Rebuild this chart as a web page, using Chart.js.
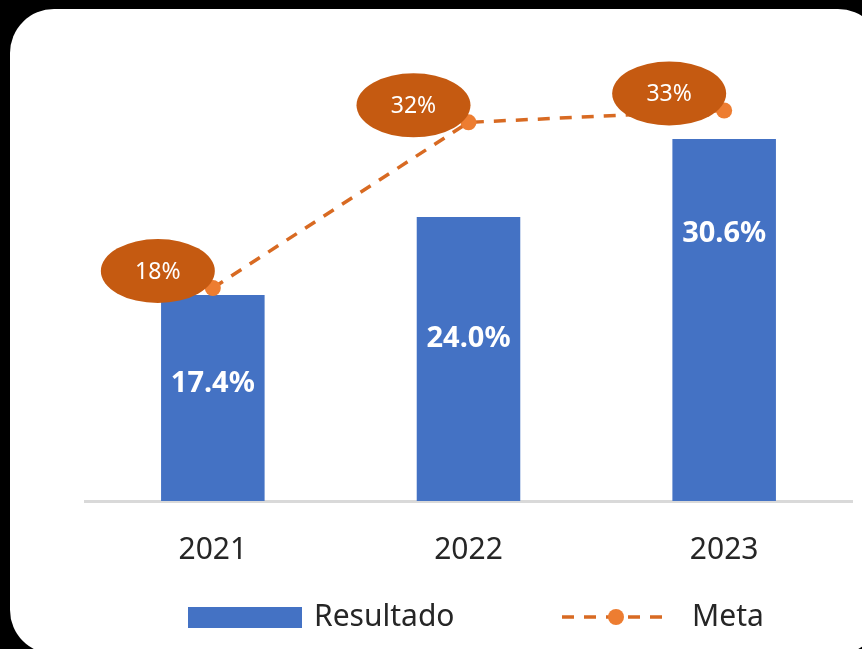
<!DOCTYPE html>
<html>
<head>
<meta charset="utf-8">
<script src="https://cdn.jsdelivr.net/npm/chart.js@4.4.1/dist/chart.umd.min.js"></script>
<style>
    html, body { margin: 0; padding: 0; background: #000; width: 862px; height: 649px; overflow: hidden; }
    .card { position: absolute; left: 10px; top: 9px; width: 872px; height: 645px; background: #fff; border-radius: 44px; }
    #chart { position: absolute; left: 0; top: 0; }
</style>
</head>
<body>
<div class="card"></div>
<canvas id="chart" width="862" height="649"></canvas>
<script>
// Resultado vs Meta

const years      = ["2021", "2022", "2023"];
const resultado  = [17.4, 24.0, 30.6];
const meta       = [18, 32, 33];
const barLabelDy = [89, 122, 95];          // label distance below bar top

const BLUE   = "#4472C4";
const ORANGE = "#ED7D31";
const DASH   = "#D86A22";
const BUBBLE = "#C55A11";
const FONT   = "'Noto Sans', 'Liberation Sans', sans-serif";

// bar value labels + bubbles on the line
const labelsPlugin = {
    id: "labels",
    afterDatasetsDraw: function (chart) {
        var ctx = chart.ctx;
        var bars = chart.getDatasetMeta(1).data;
        var pts  = chart.getDatasetMeta(0).data;
        ctx.save();
        ctx.textAlign = "center";
        ctx.textBaseline = "middle";

        ctx.fillStyle = "#fff";
        ctx.font = "bold 29px " + FONT;
        for (var i = 0; i < bars.length; i++) {
            ctx.fillText(resultado[i].toFixed(1) + "%", bars[i].x, bars[i].y + barLabelDy[i]);
        }

        ctx.font = "23px " + FONT;
        for (var j = 0; j < pts.length; j++) {
            var cx = pts[j].x - 55, cy = pts[j].y - 17;
            ctx.fillStyle = BUBBLE;
            ctx.beginPath();
            ctx.ellipse(cx, cy, 57, 32, 0, 0, Math.PI * 2);
            ctx.fill();
            ctx.fillStyle = "#fff";
            ctx.fillText(meta[j] + "%", cx, cy + 1);
        }
        ctx.restore();
    },
    afterDraw: function (chart) {
        // legend
        var ctx = chart.ctx;
        var y = 617;
        ctx.save();
        ctx.fillStyle = BLUE;
        ctx.fillRect(188, y - 10, 114, 21);
        ctx.fillStyle = "#262626";
        ctx.font = "30px " + FONT;
        ctx.textBaseline = "middle";
        ctx.textAlign = "left";
        ctx.fillText("Resultado", 314, y);

        ctx.strokeStyle = DASH;
        ctx.lineWidth = 3.5;
        ctx.setLineDash([12, 10]);
        ctx.beginPath();
        ctx.moveTo(562, y);
        ctx.lineTo(670, y);
        ctx.stroke();
        ctx.fillStyle = ORANGE;
        ctx.beginPath();
        ctx.arc(616, y, 8, 0, Math.PI * 2);
        ctx.fill();
        ctx.fillStyle = "#262626";
        ctx.fillText("Meta", 692, y);
        ctx.restore();
    }
};

new Chart(document.getElementById("chart"), {
    type: "bar",
    data: {
        labels: years,
        datasets: [
            {
                type: "line",
                label: "Meta",
                data: meta,
                order: 0,
                borderColor: DASH,
                borderWidth: 3.5,
                borderDash: [12, 10],
                pointRadius: 8,
                pointBackgroundColor: ORANGE,
                pointBorderWidth: 0,
                tension: 0
            },
            {
                label: "Resultado",
                data: resultado,
                order: 1,
                backgroundColor: BLUE,
                borderWidth: 0,
                categoryPercentage: 1,
                barPercentage: 0.405
            }
        ]
    },
    options: {
        responsive: false,
        animation: false,
        layout: { padding: { left: 85, right: 10, top: 75, bottom: 58 } },
        plugins: { legend: { display: false }, tooltip: { enabled: false } },
        scales: {
            x: {
                grid: { display: false },
                border: { display: true, color: "#d9d9d9", width: 3 },
                ticks: { color: "#262626", font: { family: FONT, size: 30 }, padding: 23 }
            },
            y: { display: false, min: 0, max: 36 }
        }
    },
    plugins: [labelsPlugin]
});
</script>
</body>
</html>
